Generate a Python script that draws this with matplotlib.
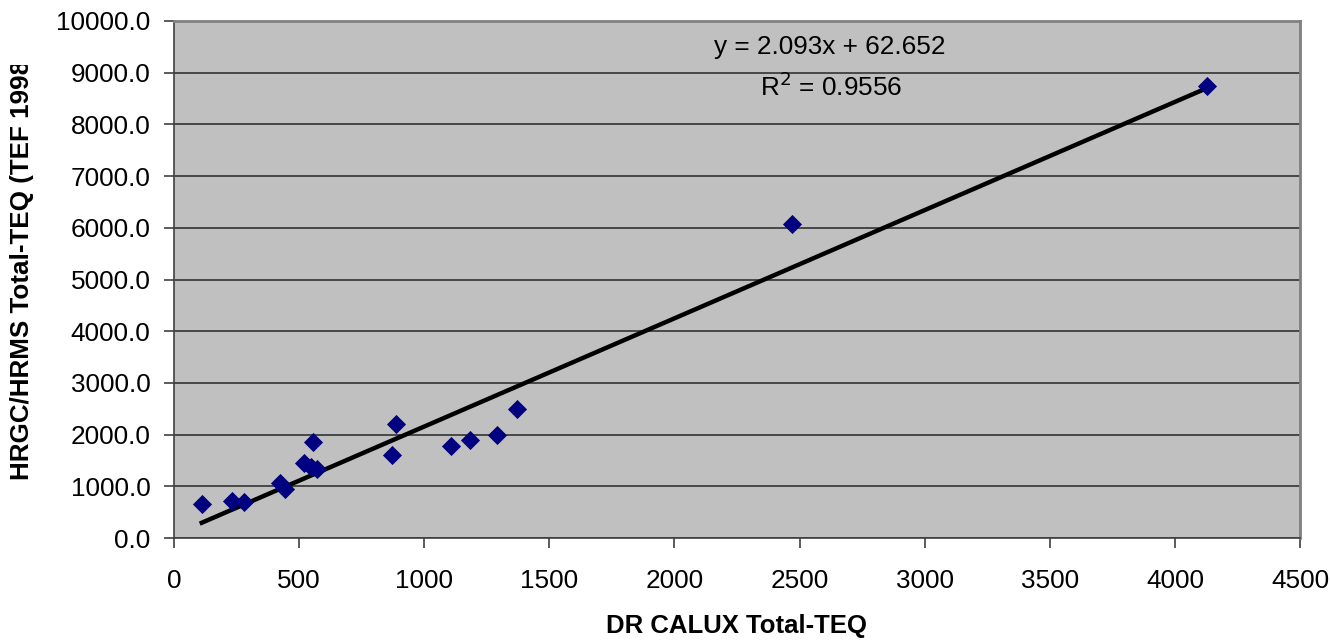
import numpy as np
import matplotlib
matplotlib.use("Agg")
import matplotlib.pyplot as plt
from matplotlib.patches import Rectangle

plt.rcParams['font.family'] = ['Liberation Sans', 'DejaVu Sans']

# DR CALUX vs HRGC/HRMS total TEQ per sample
calux = [111, 233, 280, 424, 444, 520, 547, 573, 556, 871, 887,
         1109, 1181, 1289, 1369, 2471, 4127]
hrgc = [650, 714, 701, 1056, 940, 1448, 1377, 1326, 1859, 1602, 2201,
        1776, 1905, 1988, 2504, 6075, 8748]

# linear trendline coefficients
slope = 2.093
intercept = 62.652
r2 = 0.9556

fig = plt.figure(figsize=(13.3, 6.4), dpi=100)
ax = fig.add_axes([174/1330, 1 - 538/640, (1300-174)/1330, (538-21)/640])
ax.set_facecolor('#C0C0C0')

ax.set_xlim(0, 4500)
ax.set_ylim(0, 10000)
ax.set_xticks(np.arange(0, 4501, 500))
ax.set_yticks(np.arange(0, 10001, 1000))
ax.set_yticklabels([f"{v:.1f}" for v in np.arange(0, 10001, 1000)])
ax.yaxis.grid(True, color='#333333', linewidth=1.2)
ax.set_axisbelow(True)

for s in ['top', 'right']:
    ax.spines[s].set_color('#808080')
    ax.spines[s].set_linewidth(2)
for s in ['left', 'bottom']:
    ax.spines[s].set_color('#404040')
    ax.spines[s].set_linewidth(1.2)

ax.tick_params(axis='both', direction='out', length=7, width=1.2,
               color='#404040', labelsize=18.8)
ax.tick_params(axis='y', pad=10)
ax.tick_params(axis='x', pad=15)

# trendline across data range
xs = np.sort(np.array(calux, dtype=float))
ax.plot(xs, slope * xs + intercept, color='black', linewidth=3.2, zorder=2)

ax.scatter(calux, hrgc, marker='D', s=95, color='#000080', zorder=3,
           linewidths=0)

ax.text(2622, 9497, f"y = {slope}x + {intercept}", ha='center', va='center',
        fontsize=18.8)
ax.text(2626, 8720, f"R$^2$ = {r2}", ha='center', va='center', fontsize=18.8)

fig.text(737/1330, 1 - 626/640, "DR CALUX Total-TEQ", ha='center',
         va='center', fontsize=18.5, fontweight='bold')
fig.text(22/1330, 1 - 266/640, "HRGC/HRMS Total-TEQ (TEF 1998)",
         ha='center', va='center', rotation=90, fontsize=18.7,
         fontweight='bold')
# the label box cuts off the end of the y title
fig.patches.append(Rectangle((0, 1 - 65/640), 50/1330, 65/640,
                             transform=fig.transFigure, facecolor='white',
                             edgecolor='none', zorder=10))

fig.savefig("out.png", dpi=100)
